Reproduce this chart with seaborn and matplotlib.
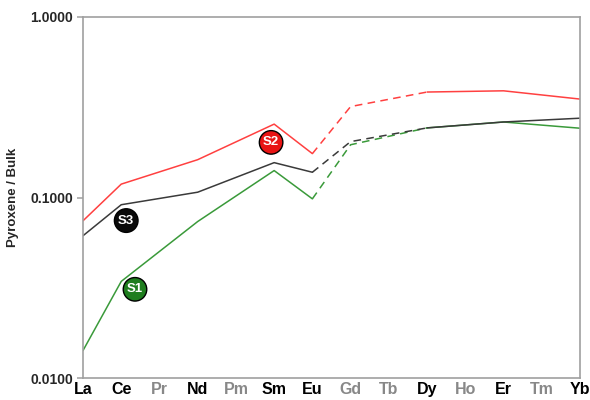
import matplotlib
matplotlib.use("Agg")
import matplotlib.pyplot as plt
import seaborn as sns
import pandas as pd
from matplotlib.ticker import FixedLocator, FormatStrFormatter, NullLocator

sns.set_theme(style="white")
plt.rcParams["font.family"] = ["Liberation Sans", "DejaVu Sans"]

elements = ["La", "Ce", "Pr", "Nd", "Pm", "Sm", "Eu", "Gd", "Tb", "Dy", "Ho", "Er", "Tm", "Yb"]
grey_labels = ["Pr", "Pm", "Gd", "Tb", "Ho", "Tm"]

measured = ["La", "Ce", "Nd", "Sm", "Eu", "Gd", "Dy", "Er", "Yb"]
s1 = [0.0142, 0.0343, 0.0736, 0.141, 0.0983, 0.196, 0.243, 0.262, 0.242]
s2 = [0.0743, 0.1186, 0.162, 0.255, 0.175, 0.319, 0.384, 0.390, 0.351]
s3 = [0.0614, 0.0912, 0.107, 0.156, 0.138, 0.204, 0.243, 0.262, 0.275]

series = {"S1": s1, "S2": s2, "S3": s3}
line_colors = {"S1": "#3a9a3a", "S2": "#ff4040", "S3": "#3a3a3a"}
badge_colors = {"S1": "#1e7d1e", "S2": "#e81414", "S3": "#0a0a0a"}

# elements drawn solid vs. the Eu-Gd-Dy bridge drawn dashed
solid_a = ["La", "Ce", "Nd", "Sm", "Eu"]
dashed = ["Eu", "Gd", "Dy"]
solid_b = ["Dy", "Er", "Yb"]

rows = []
for name, vals in series.items():
    for el, v in zip(measured, vals):
        rows.append({"sample": name, "element": el,
                     "pos": elements.index(el), "value": v})
df = pd.DataFrame(rows)

fig = plt.figure(figsize=(5.9, 4.0), dpi=100)
ax = fig.add_axes([0.1407, 0.055, 0.983 - 0.1407, 0.9575 - 0.055])

for name in series:
    sub = df[df["sample"] == name]
    for part, ls in ((solid_a, "-"), (dashed, "--"), (solid_b, "-")):
        seg = sub[sub["element"].isin(part)].sort_values("pos")
        sns.lineplot(data=seg, x="pos", y="value", ax=ax, color=line_colors[name],
                     linewidth=1.1, linestyle=ls, sort=True, estimator=None,
                     legend=False)
        if ls == "--":
            ax.lines[-1].set_dashes([5, 3.5])

ax.set_yscale("log")
ax.set_ylim(0.01, 1.0)
ax.set_xlim(0, len(elements) - 1)
ax.yaxis.set_major_locator(FixedLocator([0.01, 0.1, 1.0]))
ax.yaxis.set_minor_locator(NullLocator())
ax.yaxis.set_major_formatter(FormatStrFormatter("%.4f"))
ax.set_xticks(range(len(elements)))
ax.set_xticklabels(elements)

for lbl in ax.get_xticklabels():
    lbl.set_fontweight("bold")
    lbl.set_fontsize(11.5)
    lbl.set_color("#888888" if lbl.get_text() in grey_labels else "black")
for lbl in ax.get_yticklabels():
    lbl.set_fontweight("bold")
    lbl.set_fontsize(10)

ax.tick_params(axis="x", direction="in", length=3, color="#aaaaaa", pad=3)
ax.tick_params(axis="y", direction="out", length=4, color="#aaaaaa", pad=3, left=True)
ax.set_xlabel("")
ax.set_ylabel("Pyroxene / Bulk", fontsize=9.5, fontweight="bold", labelpad=8)

for sp in ax.spines.values():
    sp.set_color("#a0a0a0")
    sp.set_linewidth(1.2)

badges = {"S3": (1.13, 0.0745), "S2": (4.92, 0.202), "S1": (1.36, 0.0310)}
for name, (bx, by) in badges.items():
    ax.text(bx, by, name, ha="center", va="center", color="white",
            fontsize=9.5, fontweight="bold",
            bbox=dict(boxstyle="circle,pad=0.28", fc=badge_colors[name],
                      ec="black", lw=1.0), zorder=5)

fig.savefig("out.png", dpi=100)
